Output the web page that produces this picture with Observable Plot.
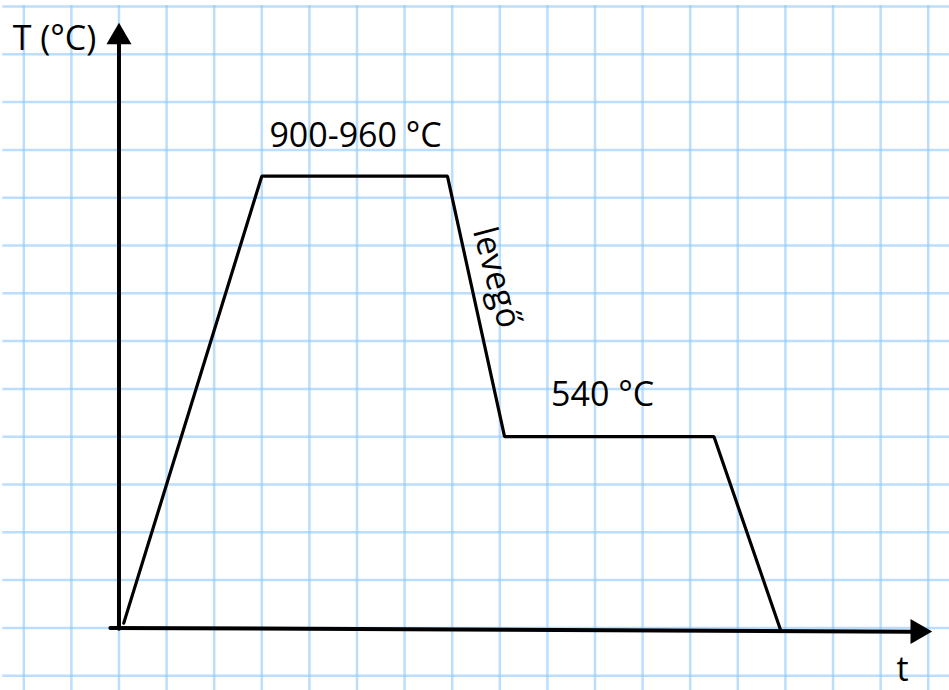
<!DOCTYPE html>
<html>
<head>
<meta charset="utf-8">
<script src="https://cdn.jsdelivr.net/npm/d3@7"></script>
<script src="https://cdn.jsdelivr.net/npm/@observablehq/plot@0.6"></script>
<style>
  html, body { margin: 0; padding: 0; background: #fff; }
  #chart svg { display: block; }
</style>
</head>
<body>
<div id="chart"></div>
<script>
// Heat-treatment diagram, in grid units (one grid square = 1 unit)
const stepTime = [0.1, 3.0, 6.9, 8.1, 12.5, 13.9];
const stepTemp = [0.1, 9.45, 9.45, 4.0, 4.0, -0.05];

// graph-paper grid lines
const gridTime = [-2, -1, 0, 1, 2, 3, 4, 5, 6, 7, 8, 9, 10, 11, 12, 13, 14, 15, 16, 17];
const gridTemp = [-1, 0, 1, 2, 3, 4, 5, 6, 7, 8, 9, 10, 11, 12, 13];

// axes (hand-drawn, slightly tilted time axis)
const yAxisTime = [0, 0];
const yAxisTemp = [-0.02, 12.3];
const xAxisTime = [-0.18, 16.7];
const xAxisTemp = [0.0, -0.08];

// labels
const labelText = ["T (°C)", "900-960 °C", "540 °C", "t"];
const labelTime = [-1.355, 4.97, 10.16, 16.46];
const labelTemp = [12.31, 10.28, 4.87, -0.88];
const airLabel = "levegő";
const airTime = 7.93;
const airTemp = 7.33;

const curve = stepTime.map((t, i) => ({t, T: stepTemp[i]}));
const yAxis = yAxisTime.map((t, i) => ({t, T: yAxisTemp[i]}));
const xAxis = xAxisTime.map((t, i) => ({t, T: xAxisTemp[i]}));
const labels = labelText.map((s, i) => ({s, t: labelTime[i], T: labelTemp[i]}));

const font = "'Open Sans', sans-serif";

const chart = Plot.plot({
  width: 949,
  height: 690,
  margin: 0,
  x: {domain: [-2.489, 17.447], axis: null},
  y: {domain: [-1.310, 13.126], axis: null},
  style: {background: "#fff", fontFamily: font},
  marks: [
    Plot.ruleX(gridTime, {x: d => d, y1: 13.02, y2: -1.31, stroke: "#8cc8fa", strokeOpacity: 0.6, strokeWidth: 2.5}),
    Plot.ruleY(gridTemp, {y: d => d, x1: -2.44, x2: 17.447, stroke: "#8cc8fa", strokeOpacity: 0.6, strokeWidth: 2.5}),
    Plot.line(yAxis, {x: "t", y: "T", stroke: "#000", strokeWidth: 4}),
    Plot.line(xAxis, {x: "t", y: "T", stroke: "#000", strokeWidth: 4}),
    Plot.dot([{t: 0, T: 12.36}], {x: "t", y: "T", symbol: "triangle", r: 9.3, fill: "#000", stroke: null}),
    Plot.dot([{t: 16.78, T: -0.075}], {x: "t", y: "T", symbol: "triangle", r: 9.3, rotate: 90, fill: "#000", stroke: null}),
    Plot.line(curve, {x: "t", y: "T", stroke: "#000", strokeWidth: 3.2, strokeLinejoin: "miter"}),
    Plot.text(labels, {x: "t", y: "T", text: "s", fontSize: 34, fill: "#000", fontFamily: font}),
    Plot.text([airLabel], {x: () => airTime, y: () => airTemp, text: d => d, rotate: 75, fontSize: 34, fill: "#000", fontFamily: font})
  ]
});
document.getElementById("chart").appendChild(chart);
</script>
</body>
</html>
